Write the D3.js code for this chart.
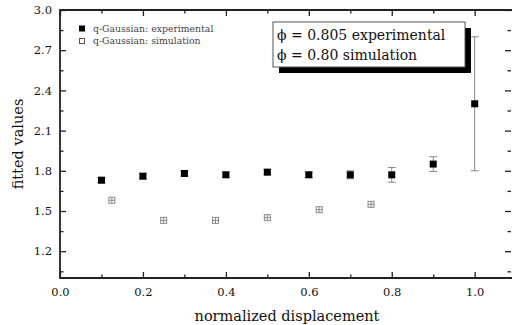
<!DOCTYPE html>
<html>
<head>
<meta charset="utf-8">
<script src="https://cdn.jsdelivr.net/npm/d3@7"></script>
<style>
  body { margin: 0; background: #fff; }
  svg { display: block; }
</style>
</head>
<body>
<svg id="chart" width="512" height="325"></svg>
<script>
// values
const expX = [0.1, 0.2, 0.3, 0.4, 0.5, 0.6, 0.7, 0.8, 0.9, 1.0];
const expY = [1.73, 1.76, 1.78, 1.77, 1.79, 1.77, 1.77, 1.77, 1.85, 2.30];
const expErr = [0.02, 0.02, 0.02, 0.02, 0.02, 0.02, 0.03, 0.055, 0.055, 0.5];
const simX = [0.125, 0.25, 0.375, 0.5, 0.625, 0.75];
const simY = [1.58, 1.43, 1.43, 1.45, 1.51, 1.55];
const xTicks = [0.0, 0.2, 0.4, 0.6, 0.8, 1.0];
const xMinor = [0.1, 0.3, 0.5, 0.7, 0.9];
const yTicks = [1.2, 1.5, 1.8, 2.1, 2.4, 2.7, 3.0];
const yMinor = [1.05, 1.35, 1.65, 1.95, 2.25, 2.55, 2.85];
const legendNames = ['q-Gaussian: experimental', 'q-Gaussian: simulation'];
const boxLines = ['\u03D5 = 0.805 experimental', '\u03D5 = 0.80 simulation'];

const serif = '"DejaVu Serif", serif';
const svg = d3.select('#chart');
const mLeft = 60, mRight = 512, mTop = 10, mBottom = 278;

const x = d3.scaleLinear().domain([0, 1.09]).range([mLeft, mRight]);
const y = d3.scaleLinear().domain([1.0, 3.0]).range([mBottom, mTop]);
const fmt = d3.format('.1f');

// axes, ticks pointing inward
function styleAxis(g) {
    g.attr('font-family', serif);
    g.select('.domain').remove();
    g.selectAll('line').attr('stroke', '#222').attr('stroke-width', 1.3);
    g.selectAll('text').attr('font-size', 11.5).attr('fill', '#111');
}

svg.append('g').attr('transform', `translate(0,${mBottom})`)
    .call(d3.axisBottom(x).tickValues(xTicks).tickFormat(fmt).tickSize(-6).tickPadding(10))
    .call(styleAxis);
svg.append('g').attr('transform', `translate(0,${mBottom})`)
    .call(d3.axisBottom(x).tickValues(xMinor).tickFormat('').tickSize(-3.5))
    .call(styleAxis);
svg.append('g').attr('transform', `translate(0,${mTop})`)
    .call(d3.axisTop(x).tickValues(xTicks).tickFormat('').tickSize(-6))
    .call(styleAxis);
svg.append('g').attr('transform', `translate(0,${mTop})`)
    .call(d3.axisTop(x).tickValues(xMinor).tickFormat('').tickSize(-3.5))
    .call(styleAxis);

svg.append('g').attr('transform', `translate(${mLeft},0)`)
    .call(d3.axisLeft(y).tickValues(yTicks).tickFormat(fmt).tickSize(-6).tickPadding(8))
    .call(styleAxis);
svg.append('g').attr('transform', `translate(${mLeft},0)`)
    .call(d3.axisLeft(y).tickValues(yMinor).tickFormat('').tickSize(-3.5))
    .call(styleAxis);
svg.append('g').attr('transform', `translate(${mRight - 1},0)`)
    .call(d3.axisRight(y).tickValues(yTicks).tickFormat('').tickSize(-6))
    .call(styleAxis);
svg.append('g').attr('transform', `translate(${mRight - 1},0)`)
    .call(d3.axisRight(y).tickValues(yMinor).tickFormat('').tickSize(-3.5))
    .call(styleAxis);

// frame
svg.append('path')
    .attr('d', `M${mRight},${mTop}H${mLeft}V${mBottom}H${mRight}`)
    .attr('fill', 'none')
    .attr('stroke', '#222')
    .attr('stroke-width', 1.8);

// axis titles
svg.append('text')
    .attr('x', 287).attr('y', 321)
    .attr('text-anchor', 'middle')
    .attr('font-family', serif)
    .attr('font-size', 14.5)
    .attr('fill', '#111')
    .text('normalized displacement');
svg.append('text')
    .attr('transform', 'translate(23,144) rotate(-90)')
    .attr('text-anchor', 'middle')
    .attr('font-family', serif)
    .attr('font-size', 14.5)
    .attr('fill', '#111')
    .text('fitted values');

// error bars (experimental)
const eb = svg.append('g').attr('stroke', '#888').attr('stroke-width', 1);
expX.forEach((v, i) => {
    const cx = x(v);
    const y0 = y(expY[i] - expErr[i]), y1 = y(expY[i] + expErr[i]);
    eb.append('line').attr('x1', cx).attr('x2', cx).attr('y1', y0).attr('y2', y1);
    eb.append('line').attr('x1', cx - 4).attr('x2', cx + 4).attr('y1', y0).attr('y2', y0);
    eb.append('line').attr('x1', cx - 4).attr('x2', cx + 4).attr('y1', y1).attr('y2', y1);
});

// experimental points: filled squares
svg.append('g').selectAll('rect')
    .data(expX)
    .enter().append('rect')
    .attr('x', d => x(d) - 3.5)
    .attr('y', (d, i) => y(expY[i]) - 3.5)
    .attr('width', 7).attr('height', 7)
    .attr('fill', '#000');

// simulation points: open squares with cross
const sim = svg.append('g').attr('stroke', '#888').attr('fill', 'none').attr('stroke-width', 1);
simX.forEach((v, i) => {
    const cx = x(v), cy = y(simY[i]);
    sim.append('rect').attr('x', cx - 3).attr('y', cy - 3).attr('width', 6).attr('height', 6);
    sim.append('line').attr('x1', cx - 3).attr('x2', cx + 3).attr('y1', cy).attr('y2', cy);
    sim.append('line').attr('x1', cx).attr('x2', cx).attr('y1', cy - 3).attr('y2', cy + 3);
});

// legend
const lg = svg.append('g').attr('font-family', serif);
lg.append('rect').attr('x', 79).attr('y', 25.5).attr('width', 6).attr('height', 6).attr('fill', '#000');
lg.append('rect').attr('x', 79.5).attr('y', 38.5).attr('width', 5).attr('height', 5)
    .attr('fill', 'none').attr('stroke', '#555').attr('stroke-width', 1);
legendNames.forEach((t, i) => {
    lg.append('text').attr('x', 93).attr('y', 32 + i * 12)
        .attr('font-size', 9.3).attr('fill', '#444').text(t);
});

// annotation box with shadow
svg.append('rect').attr('x', 279).attr('y', 28).attr('width', 192).attr('height', 45).attr('fill', '#000');
svg.append('rect').attr('x', 273).attr('y', 22).attr('width', 192).attr('height', 45)
    .attr('fill', '#fff').attr('stroke', '#555').attr('stroke-width', 1);
boxLines.forEach((t, i) => {
    svg.append('text').attr('x', 277).attr('y', 40 + i * 20)
        .attr('font-family', serif)
        .attr('font-size', 14).attr('fill', '#111').text(t);
});
</script>
</body>
</html>
